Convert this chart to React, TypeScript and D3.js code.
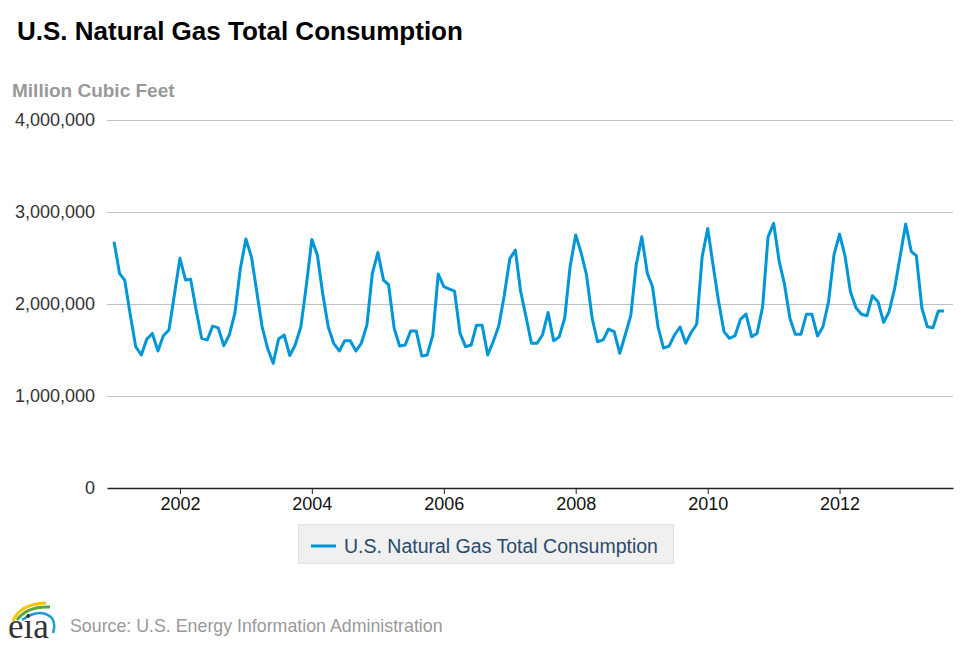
import React, { useEffect, useRef } from 'react';
import * as d3 from 'd3';

// Monthly consumption, million cubic feet, Jan 2001 .. Aug 2013
const startYear = 2001;
const consumption: number[] = [
  // 2001
  2677000, 2330000, 2260000, 1880000, 1536000, 1446000, 1616000, 1680000, 1490000, 1655000, 1717000, 2100000,
  // 2002
  2497000, 2260000, 2270000, 1930000, 1627000, 1610000, 1760000, 1740000, 1547000, 1663000, 1900000, 2380000,
  // 2003
  2707000, 2510000, 2150000, 1750000, 1520000, 1355000, 1620000, 1663000, 1440000, 1554000, 1750000, 2190000,
  // 2004
  2700000, 2530000, 2116000, 1750000, 1573000, 1490000, 1600000, 1600000, 1490000, 1573000, 1770000, 2330000,
  // 2005
  2560000, 2260000, 2210000, 1736000, 1543000, 1554000, 1707000, 1707000, 1435000, 1446000, 1663000, 2326000,
  // 2006
  2190000, 2163000, 2140000, 1680000, 1536000, 1554000, 1770000, 1770000, 1446000, 1590000, 1760000, 2087000,
  // 2007
  2490000, 2587000, 2150000, 1860000, 1573000, 1573000, 1663000, 1906000, 1600000, 1640000, 1845000, 2405000,
  // 2008
  2750000, 2550000, 2315000, 1845000, 1590000, 1610000, 1728000, 1700000, 1464000, 1663000, 1873000, 2424000,
  // 2009
  2730000, 2330000, 2190000, 1750000, 1520000, 1543000, 1663000, 1750000, 1573000, 1690000, 1780000, 2510000,
  // 2010
  2820000, 2405000, 2040000, 1700000, 1627000, 1655000, 1833000, 1890000, 1645000, 1680000, 1970000, 2730000,
  // 2011
  2877000, 2460000, 2225000, 1845000, 1670000, 1670000, 1888000, 1888000, 1652000, 1753000, 2025000, 2533000,
  // 2012
  2760000, 2514000, 2134000, 1960000, 1888000, 1873000, 2090000, 2025000, 1800000, 1916000, 2170000, 2514000,
  // 2013
  2870000, 2570000, 2525000, 1953000, 1753000, 1742000, 1924000, 1924000,
];
const yTicks = [0, 1000000, 2000000, 3000000, 4000000];
const xTickYears = [2002, 2004, 2006, 2008, 2010, 2012];

const title = 'U.S. Natural Gas Total Consumption';
const yTitle = 'Million Cubic Feet';
const seriesName = 'U.S. Natural Gas Total Consumption';
const source = 'Source: U.S. Energy Information Administration';

const FONT = '"Liberation Sans", Arial, Helvetica, sans-serif';
const BLUE = '#0096d7';

export default function App() {
  const ref = useRef<SVGSVGElement>(null);

  useEffect(() => {
    if (!ref.current) return;
    const svg = d3.select(ref.current);
    svg.selectAll('*').remove();

    const left = 107, right = 953, top = 120, bottom = 488;

    const data = consumption.map((v, i) => ({
      date: new Date(startYear, i, 1),
      value: v,
    }));

    const x = d3.scaleTime()
      .domain([new Date(2000, 10, 23), new Date(2013, 8, 20)])
      .range([left, right]);
    const y = d3.scaleLinear().domain([0, 4000000]).range([bottom, top]);

    // title
    svg.append('text')
      .attr('x', 17).attr('y', 40)
      .attr('font-size', 26).attr('font-weight', 'bold')
      .attr('fill', '#000')
      .text(title);

    svg.append('text')
      .attr('x', 12).attr('y', 97)
      .attr('font-size', 19).attr('font-weight', 'bold')
      .attr('fill', '#999')
      .text(yTitle);

    // gridlines
    svg.append('g')
      .selectAll('line')
      .data(yTicks.filter(t => t > 0))
      .enter().append('line')
      .attr('x1', left).attr('x2', right)
      .attr('y1', d => y(d) + 0.5).attr('y2', d => y(d) + 0.5)
      .attr('stroke', '#c0c0c0').attr('stroke-width', 1);

    // y labels
    const fmt = d3.format(',');
    svg.append('g')
      .selectAll('text')
      .data(yTicks)
      .enter().append('text')
      .attr('x', 95).attr('y', d => y(d) + 6)
      .attr('text-anchor', 'end')
      .attr('font-size', 18).attr('fill', '#333')
      .text(d => fmt(d));

    // x axis
    const xAxis = d3.axisBottom(x)
      .tickValues(xTickYears.map(yr => new Date(yr, 0, 1)))
      .tickFormat(d => d3.timeFormat('%Y')(d as Date))
      .tickSize(6)
      .tickSizeOuter(0)
      .tickPadding(3);
    const gx = svg.append('g')
      .attr('transform', `translate(0,${bottom})`)
      .call(xAxis);
    gx.select('.domain').attr('stroke', '#222').attr('stroke-width', 1.5);
    gx.selectAll('.tick line').attr('stroke', '#222');
    gx.selectAll('.tick text')
      .attr('font-size', 18).attr('font-family', FONT).attr('fill', '#111');

    // series line
    const line = d3.line<{ date: Date; value: number }>()
      .x(d => x(d.date))
      .y(d => y(d.value));
    svg.append('path')
      .datum(data)
      .attr('d', line)
      .attr('fill', 'none')
      .attr('stroke', BLUE)
      .attr('stroke-width', 3)
      .attr('stroke-linejoin', 'round');

    // legend
    const lg = svg.append('g');
    lg.append('rect')
      .attr('x', 298.5).attr('y', 524.5).attr('width', 375).attr('height', 39)
      .attr('fill', '#f0f0f0').attr('stroke', '#e2e2e2');
    lg.append('line')
      .attr('x1', 311).attr('x2', 336).attr('y1', 546).attr('y2', 546)
      .attr('stroke', BLUE).attr('stroke-width', 3);
    lg.append('text')
      .attr('x', 344).attr('y', 553)
      .attr('font-size', 19.5).attr('fill', '#274b6d')
      .text(seriesName);

    // eia logo
    const logo = svg.append('g');
    logo.append('path')
      .attr('d', 'M13,621 Q20,604 46,603')
      .attr('fill', 'none').attr('stroke', '#f2c500').attr('stroke-width', 3);
    logo.append('path')
      .attr('d', 'M17,620 Q27,606 50,607')
      .attr('fill', 'none').attr('stroke', '#5aa83c').attr('stroke-width', 3);
    logo.append('path')
      .attr('d', 'M22,620 Q40,607 52,618 Q56,625 53,633')
      .attr('fill', 'none').attr('stroke', '#1a9ad6').attr('stroke-width', 2.5);
    logo.append('text')
      .attr('x', 8).attr('y', 638)
      .attr('font-family', '"Liberation Serif", "DejaVu Serif", serif')
      .attr('font-size', 35).attr('fill', '#333')
      .text('eia');

    svg.append('text')
      .attr('x', 70).attr('y', 632)
      .attr('font-size', 17.8).attr('fill', '#999')
      .text(source);
  }, []);

  return (
    <div style={{ position: 'absolute', left: 0, top: 0, width: 970, height: 647, background: '#fff' }}>
      <svg ref={ref} width={970} height={647} style={{ fontFamily: FONT, display: 'block' }} />
    </div>
  );
}
